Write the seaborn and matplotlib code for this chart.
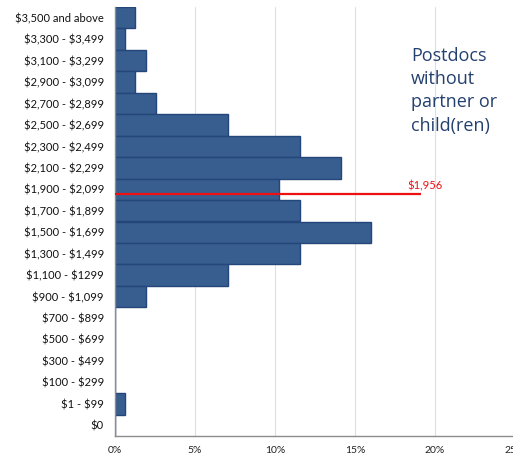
import numpy as np
import matplotlib
matplotlib.use("Agg")
import matplotlib.pyplot as plt
import seaborn as sns

# income bins, top to bottom as shown
bins = ['$3,500 and above', '$3,300 - $3,499', '$3,100 - $3,299', '$2,900 - $3,099',
        '$2,700 - $2,899', '$2,500 - $2,699', '$2,300 - $2,499', '$2,100 - $2,299',
        '$1,900 - $2,099', '$1,700 - $1,899', '$1,500 - $1,699', '$1,300 - $1,499',
        '$1,100 - $1299', '$900 - $1,099', '$700 - $899', '$500 - $699',
        '$300 - $499', '$100 - $299', '$1 - $99', '$0']
# share of postdocs per bin (%)
share = [1.28, 0.64, 1.92, 1.28, 2.56, 7.05, 11.54, 14.10, 10.26, 11.54,
         16.03, 11.54, 7.05, 1.92, 0, 0, 0, 0, 0.64, 0]
x_ticks = [0, 5, 10, 15, 20, 25]
x_tick_labels = ['0%', '5%', '10%', '15%', '20%', '25%']

median_value = 1956
median_bin = '$1,900 - $2,099'
median_bin_low, median_bin_high = 1900, 2100
median_line_end = 19.1

sns.set_style('white')
plt.rcParams['font.family'] = ['Lato', 'DejaVu Sans']
plt.rcParams['text.parse_math'] = False

fig = plt.figure(figsize=(5.13, 4.57), dpi=100)
ax = fig.add_axes([115 / 513, 21 / 457, 400 / 513, 429 / 457])

sns.barplot(x=share, y=bins, orient='h', color='#375e8f', width=1.0,
            edgecolor='#24467a', linewidth=1.0, saturation=1, ax=ax)

ax.set_xlim(0, 25)
ax.set_ylim(len(bins) - 0.5, -0.5)
ax.set_xticks(x_ticks)
ax.set_xticklabels(x_tick_labels, fontsize=7.5, color='#222222')
ax.tick_params(axis='y', which='major', length=0, pad=8, labelsize=8, labelcolor='#111111')
ax.set_yticks(np.arange(len(bins) + 1) - 0.5, minor=True)
ax.tick_params(axis='y', which='minor', length=4, width=0.8, color='#888888')
ax.tick_params(axis='x', length=3, width=0.8, color='#bbbbbb', pad=4)

ax.set_axisbelow(True)
ax.xaxis.grid(True, color='#d5dff0', linewidth=0.8)
ax.yaxis.grid(False)
for side in ['top', 'right']:
    ax.spines[side].set_visible(False)
for side in ['left', 'bottom']:
    ax.spines[side].set_color('#8c8c8c')
    ax.spines[side].set_linewidth(1.0)
ax.set_xlabel('')
ax.set_ylabel('')

# median line placed inside its bin
idx = bins.index(median_bin)
y_med = idx + 0.5 - (median_value - median_bin_low) / (median_bin_high - median_bin_low)
ax.plot([0, median_line_end], [y_med, y_med], color='#ee1111', linewidth=1.6,
        solid_capstyle='butt', zorder=5)
ax.text(median_line_end - 0.8, y_med - 0.12, f'${median_value:,}', color='#ee1111',
        fontsize=8, ha='left', va='bottom')

ax.text(18.5, 1.35, 'Postdocs\nwithout\npartner or\nchild(ren)', color='#24406e',
        fontsize=13, ha='left', va='top', linespacing=1.38,
        family=['Open Sans', 'DejaVu Sans'])

fig.savefig('out.png', dpi=100)
